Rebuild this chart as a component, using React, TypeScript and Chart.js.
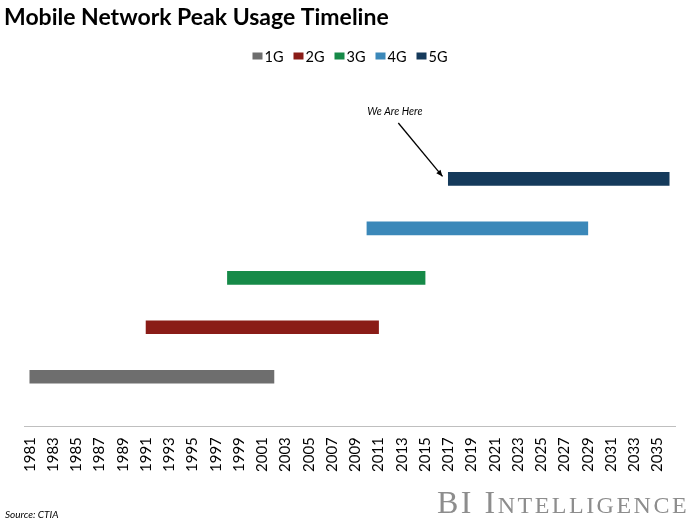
import React, { useEffect, useRef } from "react";
import { Chart, registerables } from "chart.js";

Chart.register(...registerables);

const TITLE = "Mobile Network Peak Usage Timeline";
const generations = ["1G", "2G", "3G", "4G", "5G"];
const startYears = [1981, 1991, 1998, 2010, 2017];
const endYears = [2002, 2011, 2015, 2029, 2036];
const rows = [1, 2, 3, 4, 5];
const colors = ["#6e6e6e", "#8a1c17", "#168a48", "#3b88b9", "#153a5b"];
const tickYears = [
  1981, 1983, 1985, 1987, 1989, 1991, 1993, 1995, 1997, 1999, 2001, 2003, 2005, 2007,
  2009, 2011, 2013, 2015, 2017, 2019, 2021, 2023, 2025, 2027, 2029, 2031, 2033, 2035,
];
const annotationText = "We Are Here";
const annotationPos = [2012.4, 6.36];
const arrowFrom = [2012.7, 6.13];
const arrowTo = [2016.5, 5.05];
const sourceText = "Source: CTIA";

const FONT = "Lato, 'Open Sans', sans-serif";

const decorPlugin = {
  id: "decor",
  afterDraw(chart: any) {
    const { ctx, scales } = chart;
    const xs = scales.x;
    const ys = scales.y;
    ctx.save();
    // title
    ctx.fillStyle = "#000";
    ctx.font = `bold 23px ${FONT}`;
    ctx.textAlign = "left";
    ctx.textBaseline = "middle";
    ctx.fillText(TITLE, 4, 18);
    // legend
    ctx.font = `14.5px ${FONT}`;
    const boxW = 10;
    const boxH = 7;
    const gapBox = 2;
    const gapItem = 10;
    const widths = generations.map((g) => boxW + gapBox + ctx.measureText(g).width);
    const total = widths.reduce((a, b) => a + b, 0) + gapItem * (generations.length - 1);
    let lx = 350 - total / 2;
    const ly = 56;
    generations.forEach((g, i) => {
      ctx.fillStyle = colors[i];
      ctx.fillRect(lx, ly - boxH / 2, boxW, boxH);
      ctx.fillStyle = "#000";
      ctx.fillText(g, lx + boxW + gapBox, ly + 1);
      lx += widths[i] + gapItem;
    });
    // annotation text
    ctx.fillStyle = "#000";
    ctx.font = `italic 10.5px ${FONT}`;
    ctx.textAlign = "center";
    ctx.fillText(annotationText, xs.getPixelForValue(annotationPos[0]), ys.getPixelForValue(annotationPos[1]));
    // arrow
    const x1 = xs.getPixelForValue(arrowFrom[0]);
    const y1 = ys.getPixelForValue(arrowFrom[1]);
    const x2 = xs.getPixelForValue(arrowTo[0]);
    const y2 = ys.getPixelForValue(arrowTo[1]);
    ctx.strokeStyle = "#000";
    ctx.lineWidth = 1.3;
    ctx.beginPath();
    ctx.moveTo(x1, y1);
    ctx.lineTo(x2, y2);
    ctx.stroke();
    const ang = Math.atan2(y2 - y1, x2 - x1);
    const L = 7;
    ctx.beginPath();
    ctx.moveTo(x2, y2);
    ctx.lineTo(x2 - L * Math.cos(ang - 0.4), y2 - L * Math.sin(ang - 0.4));
    ctx.lineTo(x2 - L * Math.cos(ang + 0.4), y2 - L * Math.sin(ang + 0.4));
    ctx.closePath();
    ctx.fill();
    // source
    ctx.textAlign = "left";
    ctx.textBaseline = "alphabetic";
    ctx.font = `italic 10px ${FONT}`;
    ctx.fillText(sourceText, 5, 518);
    // logo
    ctx.fillStyle = "#8d8d8d";
    (ctx as any).letterSpacing = "2.5px";
    let bx = 437;
    const base = 513;
    const big = "32px 'Liberation Serif', 'DejaVu Serif', serif";
    const small = "24px 'Liberation Serif', 'DejaVu Serif', serif";
    const parts: [string, string][] = [
      ["BI", big],
      [" ", big],
      ["I", big],
      ["NTELLIGENCE", small],
    ];
    for (const [t, f] of parts) {
      ctx.font = f;
      ctx.fillText(t, bx, base);
      bx += ctx.measureText(t).width;
    }
    ctx.restore();
  },
};

export default function App() {
  const ref = useRef<HTMLCanvasElement>(null);
  useEffect(() => {
    document.body.style.margin = "0";
    const datasets = generations.map((g, i) => ({
      label: g,
      data: [{ x: [startYears[i], endYears[i]], y: rows[i] }],
      backgroundColor: colors[i],
      borderWidth: 0,
      barThickness: 13,
      grouped: false,
    }));
    const chart = new Chart(ref.current!, {
      type: "bar",
      data: { datasets: datasets as any },
      options: {
        animation: false,
        responsive: false,
        indexAxis: "y",
        layout: { padding: { left: 24, right: 25, top: 80, bottom: 42 } },
        plugins: {
          title: { display: false },
          legend: { display: false },
          tooltip: { enabled: false },
        },
        scales: {
          x: {
            type: "linear",
            min: 1980.5,
            max: 2036.5,
            offset: false,
            afterBuildTicks: (axis: any) => {
              axis.ticks = tickYears.map((v) => ({ value: v }));
            },
            ticks: {
              autoSkip: false,
              minRotation: 90,
              maxRotation: 90,
              color: "#000",
              padding: 11,
              font: { family: FONT, size: 15 },
              callback: (v: any) => String(v),
            },
            grid: { display: false, drawTicks: false },
            border: { display: true, color: "#bfbfbf", width: 1 },
          },
          y: {
            type: "linear",
            min: 0,
            max: 7,
            offset: false,
            display: false,
          },
        },
      },
      plugins: [decorPlugin],
    });
    return () => chart.destroy();
  }, []);
  return (
    <div style={{ width: 700, height: 525 }}>
      <canvas ref={ref} width={700} height={525} />
    </div>
  );
}
